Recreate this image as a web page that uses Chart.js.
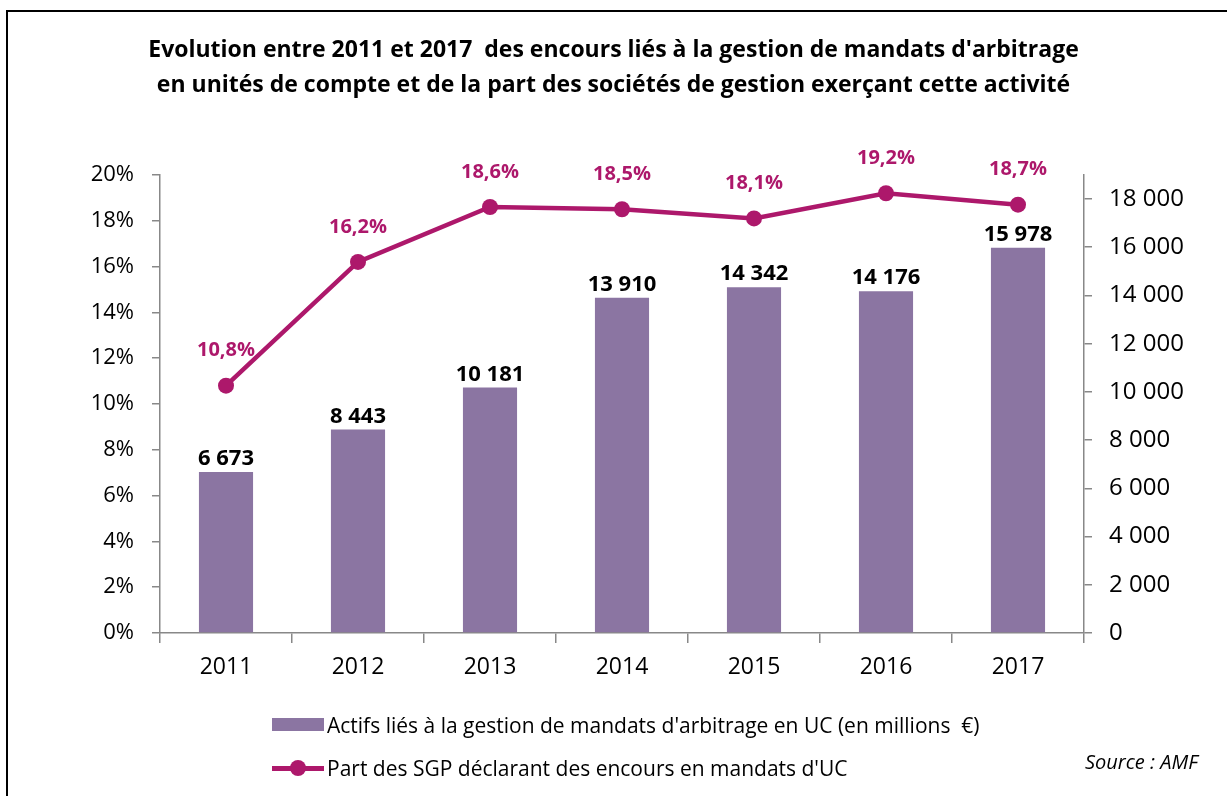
<!DOCTYPE html>
<html lang="fr">
<head>
<meta charset="utf-8">
<title>Mandats d'arbitrage en UC</title>
<script src="https://cdn.jsdelivr.net/npm/chart.js@4.4.1/dist/chart.umd.min.js"></script>
<style>
    html, body { margin: 0; padding: 0; background: #fff; overflow: hidden; }
    #wrap { position: relative; width: 1227px; height: 796px; }
    #frame { position: absolute; left: 6px; top: 10px; width: 1400px; height: 1000px; border: 2px solid #000; box-sizing: border-box; }
    canvas { position: absolute; left: 0; top: 0; }
    .legend { position: absolute; left: 272px; font-family: "Open Sans", sans-serif; font-size: 21px; line-height: 30px; color: #000; white-space: pre; }
    .legend .sw { position: absolute; left: 0; }
    .legend span.txt { position: absolute; left: 55px; top: 0; }
    #source { position: absolute; left: 1085px; top: 748px; font-family: "Open Sans", sans-serif; font-style: italic; font-size: 20px; color: #000; }
</style>
</head>
<body>
<div id="wrap">
    <div id="frame"></div>
    <canvas id="amfChart" width="1227" height="796"></canvas>
    <div id="legend"></div>
    <div id="source">Source : AMF</div>
</div>
<script>
// data
const years = ['2011', '2012', '2013', '2014', '2015', '2016', '2017'];
const encours = [6673, 8443, 10181, 13910, 14342, 14176, 15978];   // millions d'euros
const partSGP = [10.8, 16.2, 18.6, 18.5, 18.1, 19.2, 18.7];        // %
const pctTicks = [0, 2, 4, 6, 8, 10, 12, 14, 16, 18, 20];
const amountTicks = [0, 2000, 4000, 6000, 8000, 10000, 12000, 14000, 16000, 18000];

const barLabel = "Actifs liés à la gestion de mandats d'arbitrage en UC (en millions  €)";
const lineLabel = "Part des SGP déclarant des encours en mandats d'UC";
const titleLines = [
    "Evolution entre 2011 et 2017  des encours liés à la gestion de mandats d'arbitrage",
    "en unités de compte et de la part des sociétés de gestion exerçant cette activité"
];

const barColor = '#8b75a2';
const lineColor = '#ad186b';
const axisColor = '#888888';
const fontFamily = '"Open Sans", sans-serif';

// 15978 -> "15 978", 10.8 -> "10,8%"
function fmtAmount(v) {
    return String(v).replace(/\B(?=(\d{3})+(?!\d))/g, ' ');
}
function fmtPct(v) {
    return v.toFixed(1).replace('.', ',') + '%';
}

// draws the values above bars and points
const valueLabels = {
    id: 'valueLabels',
    afterDatasetsDraw(chart) {
        const ctx = chart.ctx;
        ctx.save();
        ctx.textAlign = 'center';
        ctx.textBaseline = 'middle';
        chart.data.datasets.forEach((ds, i) => {
            const meta = chart.getDatasetMeta(i);
            meta.data.forEach((el, j) => {
                if (ds.type === 'bar') {
                    ctx.font = 'bold 22px ' + fontFamily;
                    ctx.fillStyle = '#000';
                    ctx.fillText(fmtAmount(ds.data[j]), el.x, el.y - 13);
                } else {
                    ctx.font = 'bold 20px ' + fontFamily;
                    ctx.fillStyle = lineColor;
                    ctx.fillText(fmtPct(ds.data[j]), el.x, el.y - 35);
                }
            });
        });
        ctx.restore();
    }
};

const ctx = document.getElementById('amfChart').getContext('2d');

const amfChart = new Chart(ctx, {
    data: {
        labels: years,
        datasets: [{
            type: 'line',
            label: lineLabel,
            data: partSGP,
            yAxisID: 'y',
            borderColor: lineColor,
            backgroundColor: lineColor,
            borderWidth: 4.5,
            pointRadius: 8,
            pointHoverRadius: 8,
            pointBorderWidth: 0,
            tension: 0,
            order: 0
        }, {
            type: 'bar',
            label: barLabel,
            data: encours,
            yAxisID: 'y1',
            backgroundColor: barColor,
            borderWidth: 0,
            categoryPercentage: 1,
            barPercentage: 0.41,
            order: 1
        }]
    },
    options: {
        responsive: false,
        animation: false,
        layout: {
            padding: { left: 0, right: 0, top: 0, bottom: 113 }
        },
        plugins: {
            legend: { display: false },
            tooltip: { enabled: false },
            title: {
                display: true,
                text: titleLines,
                color: '#000',
                font: { family: fontFamily, size: 23, weight: 'bold', lineHeight: 1.52 },
                padding: { top: 33, bottom: 72 }
            }
        },
        scales: {
            x: {
                grid: { drawOnChartArea: false, drawTicks: true, tickLength: 10, color: axisColor, lineWidth: 1.5, offset: true },
                border: { display: true, color: axisColor, width: 1.5 },
                ticks: { color: '#000', font: { family: fontFamily, size: 23 }, padding: 11 },
                afterFit(scale) { scale.height = 50; }
            },
            y: {
                position: 'left',
                min: 0,
                max: 20,
                afterBuildTicks(scale) { scale.ticks = pctTicks.map(v => ({ value: v })); },
                grid: { drawOnChartArea: false, drawTicks: true, tickLength: 8, color: axisColor, lineWidth: 1.5 },
                border: { display: true, color: axisColor, width: 1.5 },
                ticks: {
                    color: '#000',
                    font: { family: fontFamily, size: 22 },
                    padding: 18,
                    callback: v => v + '%'
                },
                afterFit(scale) { scale.width = 160; }
            },
            y1: {
                position: 'right',
                min: 0,
                max: 19000,
                afterBuildTicks(scale) { scale.ticks = amountTicks.map(v => ({ value: v })); },
                grid: { drawOnChartArea: false, drawTicks: true, tickLength: 8, color: axisColor, lineWidth: 1.5 },
                border: { display: true, color: axisColor, width: 1.5 },
                ticks: {
                    color: '#000',
                    font: { family: fontFamily, size: 24 },
                    padding: 17,
                    callback: v => fmtAmount(v)
                },
                afterFit(scale) { scale.width = 143; }
            }
        }
    },
    plugins: [valueLabels]
});

// html legend built from the datasets, stacked like the original
const legendBox = document.getElementById('legend');
const legendRows = [
    { ds: amfChart.data.datasets[1], top: 710 },
    { ds: amfChart.data.datasets[0], top: 753 }
];
legendRows.forEach(row => {
    const item = document.createElement('div');
    item.className = 'legend';
    item.style.top = row.top + 'px';
    let swatch;
    if (row.ds.type === 'bar') {
        swatch = '<div class="sw" style="top:8px;width:52px;height:13px;background:' + row.ds.backgroundColor + '"></div>';
    } else {
        swatch = '<div class="sw" style="top:13px;width:52px;height:5px;background:' + row.ds.borderColor + '"></div>' +
                 '<div class="sw" style="left:18px;top:7px;width:16px;height:16px;border-radius:50%;background:' + row.ds.borderColor + '"></div>';
    }
    item.innerHTML = swatch + '<span class="txt">' + row.ds.label + '</span>';
    legendBox.appendChild(item);
});
</script>
</body>
</html>
